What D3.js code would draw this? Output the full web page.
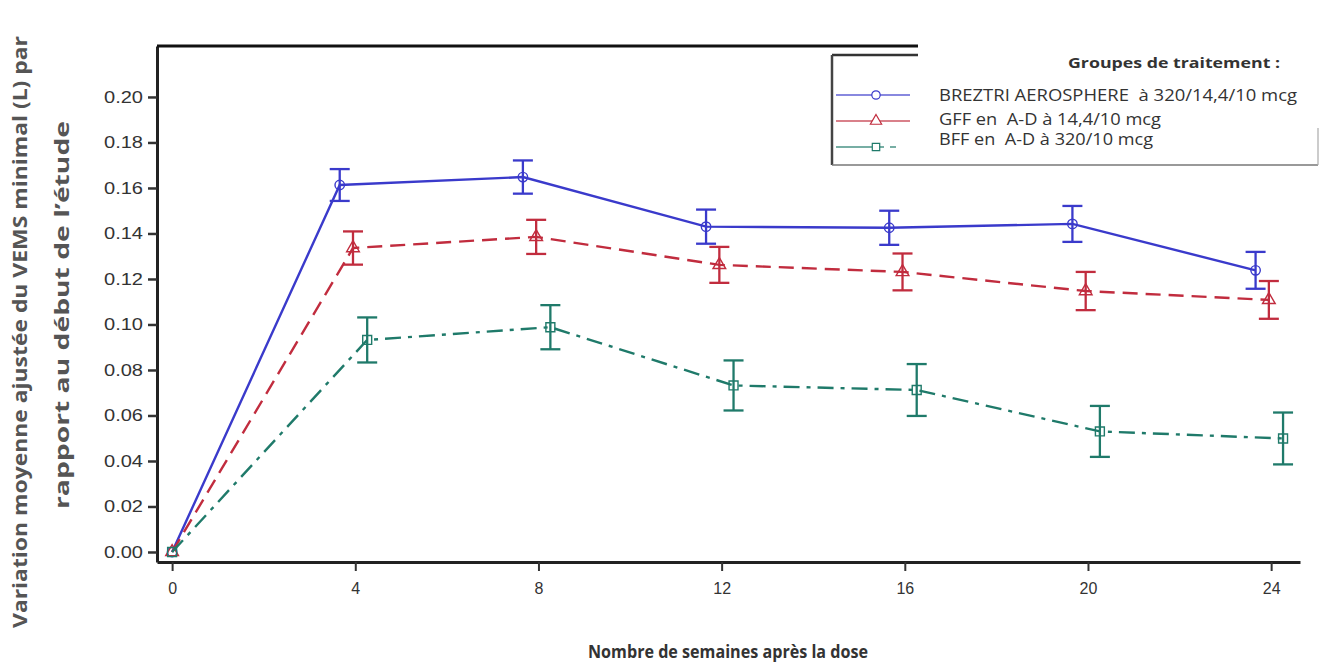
<!DOCTYPE html>
<html>
<head>
<meta charset="utf-8">
<script src="https://cdn.jsdelivr.net/npm/d3@7"></script>
<style>
  body { margin: 0; background: #fff; }
  svg { display: block; font-family: "Open Sans", sans-serif; }
</style>
</head>
<body>
<svg id="chart" width="1322" height="665"></svg>
<script>
// data
let weeks = [0, 4, 8, 12, 16, 20, 24]
let groupNames = ['BREZTRI AEROSPHERE\u00a0 à 320/14,4/10 mcg', 'GFF en\u00a0 A-D à 14,4/10 mcg', 'BFF en\u00a0 A-D à 320/10 mcg']
let breztri = [0, 0.1613, 0.1648, 0.143, 0.1425, 0.1442, 0.1238]
let breztriErr = [0, 0.0070, 0.0073, 0.0075, 0.0075, 0.0079, 0.0081]
let gff = [0, 0.1336, 0.1385, 0.1262, 0.1231, 0.1147, 0.1108]
let gffErr = [0, 0.0073, 0.0075, 0.0079, 0.0081, 0.0084, 0.0083]
let bff = [0, 0.0932, 0.0988, 0.0732, 0.0712, 0.0530, 0.0499]
let bffErr = [0, 0.0099, 0.0097, 0.0110, 0.0114, 0.0112, 0.0114]
let weekShift = [-0.34, -0.05, 0.26]   // small horizontal offsets between groups
let yTicks = [0, 0.02, 0.04, 0.06, 0.08, 0.10, 0.12, 0.14, 0.16, 0.18, 0.20]

let colors = ['#3a3acb', '#c12c3e', '#1f7a6a']
let dashes = [null, '15,8', '16,7,4,7']
let shapes = [d3.symbolCircle, d3.symbolTriangle, d3.symbolSquare]
let legendWidths = [358, 222, 214]

let series = [breztri, gff, bff].map((vals, i) => ({
    name: groupNames[i],
    color: colors[i],
    dash: dashes[i],
    shape: shapes[i],
    pts: weeks.map((w, j) => ({
        w: w === 0 ? 0 : w + weekShift[i],
        v: vals[j],
        e: [breztriErr, gffErr, bffErr][i][j]
    }))
}))

let svg = d3.select('#chart')

let x = d3.scaleLinear().domain([-0.33, 24.63]).range([157, 1300])
let y = d3.scaleLinear().domain([-0.0044, 0.2224]).range([562, 46])

// axes
let gx = svg.append('g')
    .attr('transform', 'translate(0,' + y.range()[0] + ')')
    .call(d3.axisBottom(x).tickValues(weeks).tickSize(9).tickSizeOuter(0).tickFormat(d3.format('d')))
gx.select('.domain').attr('stroke', '#222').attr('stroke-width', 3)
gx.selectAll('.tick line').attr('stroke', '#333').attr('stroke-width', 2)
gx.selectAll('.tick text')
    .attr('fill', '#333')
    .style('font-size', '16px')
    .attr('y', 21)
    .attr('dy', '0.71em')

let gy = svg.append('g')
    .attr('transform', 'translate(' + x.range()[0] + ',0)')
    .call(d3.axisLeft(y).tickValues(yTicks).tickSize(9).tickSizeOuter(0).tickFormat(d3.format('.2f')))
gy.select('.domain').attr('stroke', '#222').attr('stroke-width', 3)
gy.selectAll('.tick line').attr('stroke', '#333').attr('stroke-width', 2.5)
gy.selectAll('.tick text').attr('fill', '#333').style('font-size', '16px').attr('x', -14)
    .attr('textLength', 39).attr('lengthAdjust', 'spacingAndGlyphs')

// top frame line (stops where the legend sits)
svg.append('line')
    .attr('x1', x.range()[0]).attr('x2', 918)
    .attr('y1', y.range()[1]).attr('y2', y.range()[1])
    .attr('stroke', '#111').attr('stroke-width', 3)

// lines
let line = d3.line().x(d => x(d.w)).y(d => y(d.v))

series.forEach(s => {
    svg.append('path')
        .datum(s.pts)
        .attr('d', line)
        .attr('fill', 'none')
        .attr('stroke', s.color)
        .attr('stroke-width', 2.4)
        .attr('stroke-dasharray', s.dash)

    let eb = svg.append('g').attr('stroke', s.color).attr('stroke-width', 2.3)
    s.pts.filter(d => d.e > 0).forEach(d => {
        eb.append('line').attr('x1', x(d.w)).attr('x2', x(d.w)).attr('y1', y(d.v - d.e)).attr('y2', y(d.v + d.e))
        eb.append('line').attr('x1', x(d.w) - 10).attr('x2', x(d.w) + 10).attr('y1', y(d.v + d.e)).attr('y2', y(d.v + d.e))
        eb.append('line').attr('x1', x(d.w) - 10).attr('x2', x(d.w) + 10).attr('y1', y(d.v - d.e)).attr('y2', y(d.v - d.e))
    })

    svg.append('g').selectAll('path')
        .data(s.pts)
        .enter().append('path')
        .attr('transform', d => 'translate(' + x(d.w) + ',' + y(d.v) + ')')
        .attr('d', d3.symbol().type(s.shape).size(s.shape === d3.symbolSquare ? 80 : 70))
        .attr('fill', 'none')
        .attr('stroke', s.color)
        .attr('stroke-width', 1.4)
})

// legend
let lg = svg.append('g')
lg.append('rect').attr('x', 832).attr('y', 55).attr('width', 486).attr('height', 110).attr('fill', '#fff')
lg.append('line').attr('x1', 832).attr('x2', 918).attr('y1', 55).attr('y2', 55).attr('stroke', '#333').attr('stroke-width', 2.5)
lg.append('line').attr('x1', 832).attr('x2', 832).attr('y1', 55).attr('y2', 165).attr('stroke', '#444').attr('stroke-width', 2.5)
lg.append('line').attr('x1', 832).attr('x2', 1318).attr('y1', 165).attr('y2', 165).attr('stroke', '#777').attr('stroke-width', 1.5)
lg.append('line').attr('x1', 1318).attr('x2', 1318).attr('y1', 128).attr('y2', 165).attr('stroke', '#aaa').attr('stroke-width', 1.2)

lg.append('text')
    .attr('x', 1068).attr('y', 63).attr('dy', '0.35em')
    .attr('font-size', 15).attr('font-weight', 'bold').attr('fill', '#333')
    .attr('textLength', 212).attr('lengthAdjust', 'spacingAndGlyphs')
    .text('Groupes de traitement :')

let rowY = [95, 121, 147]
let textY = [96, 120, 140]
series.forEach((s, i) => {
    lg.append('line')
        .attr('x1', 836).attr('x2', 910).attr('y1', rowY[i]).attr('y2', rowY[i])
        .attr('stroke', s.color).attr('stroke-width', 1.5).attr('opacity', 0.8)
        .attr('stroke-dasharray', i === 2 ? '36,6,6,6,6' : null)
    lg.append('path')
        .attr('transform', 'translate(876,' + rowY[i] + ')')
        .attr('d', d3.symbol().type(s.shape).size(55))
        .attr('fill', '#fff').attr('stroke', s.color).attr('stroke-width', 1.2)
    lg.append('text')
        .attr('x', 939).attr('y', textY[i]).attr('dy', '0.35em')
        .attr('font-size', 15.5).attr('fill', '#333')
        .attr('textLength', legendWidths[i]).attr('lengthAdjust', 'spacingAndGlyphs')
        .text(s.name)
})

// axis titles
svg.append('text')
    .attr('transform', 'translate(728,652)')
    .attr('text-anchor', 'middle').attr('dy', '0.35em')
    .attr('font-size', 18).attr('font-weight', 'bold').attr('fill', '#333')
    .attr('textLength', 280).attr('lengthAdjust', 'spacingAndGlyphs')
    .text('Nombre de semaines après la dose')

let yTitle = ['Variation moyenne ajustée du VEMS minimal (L) par', 'rapport au début de l\u2019étude']
let yTitleX = [20, 62]
let yTitleMid = [332, 315]
let yTitleLen = [592, 388]
yTitle.forEach((t, i) => {
    svg.append('text')
        .attr('transform', 'translate(' + yTitleX[i] + ',' + yTitleMid[i] + ') rotate(-90)')
        .attr('text-anchor', 'middle').attr('dy', '0.35em')
        .attr('font-size', 20).attr('font-weight', 'bold').attr('fill', '#555')
        .attr('textLength', yTitleLen[i]).attr('lengthAdjust', 'spacingAndGlyphs')
        .text(t)
})
</script>
</body>
</html>
